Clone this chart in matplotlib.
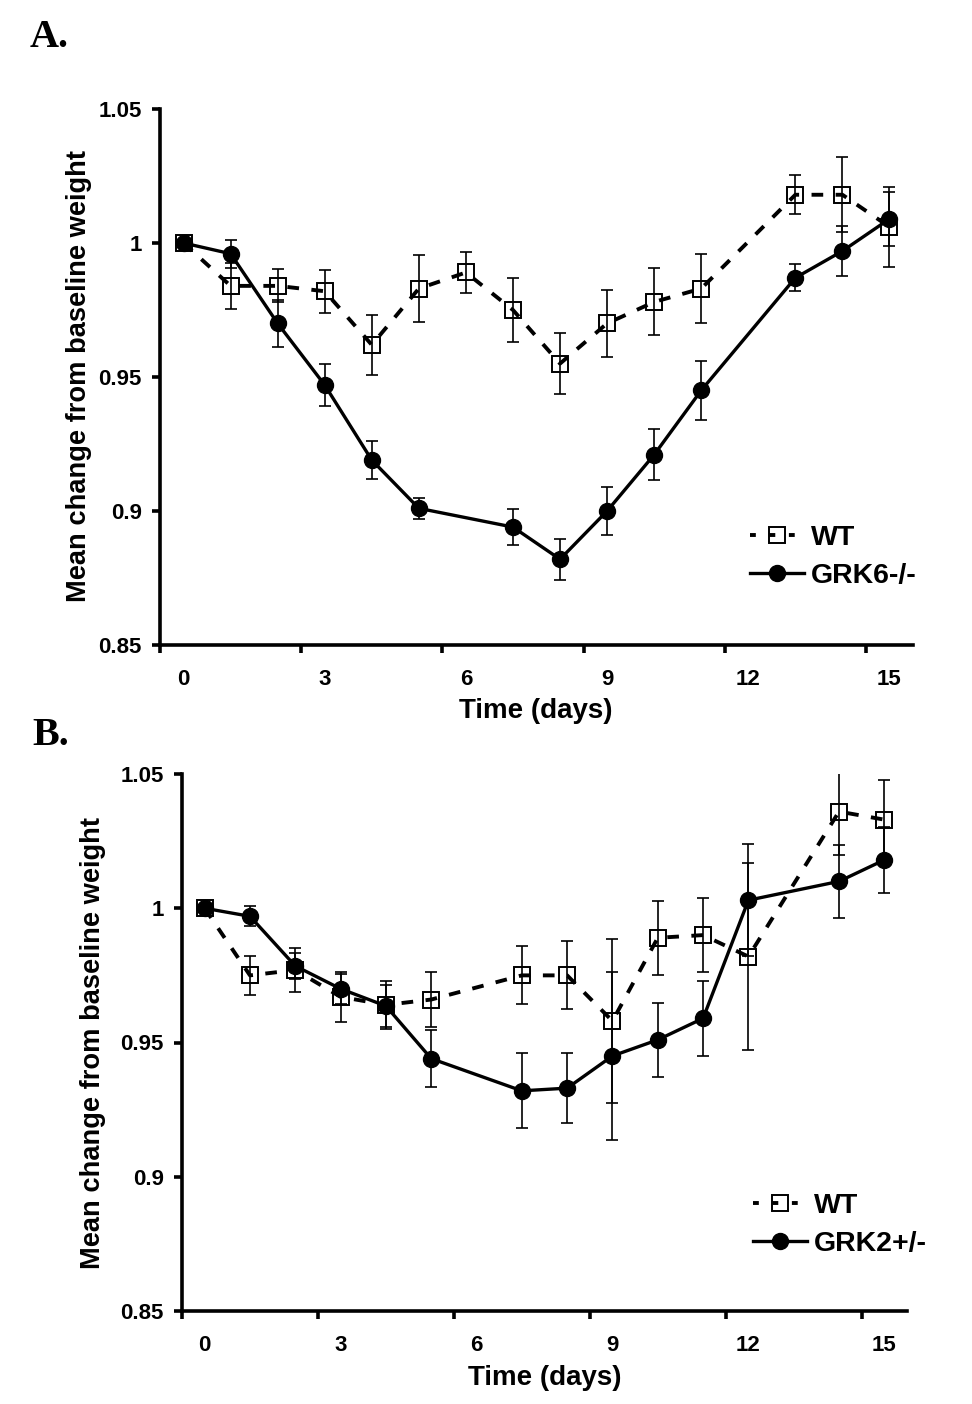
import numpy as np
import matplotlib
matplotlib.use("Agg")
import matplotlib.pyplot as plt
from matplotlib.lines import Line2D

# panel A: WT vs GRK6-/-
days_A_wt = [0, 1, 2, 3, 4, 5, 6, 7, 8, 9, 10, 11, 13, 14, 15]
wt_A = [1.000, 0.984, 0.984, 0.982, 0.962, 0.983, 0.989, 0.975, 0.955, 0.970, 0.978, 0.983, 1.018, 1.018, 1.006]
wt_A_err = [0, 0.0085, 0.0062, 0.008, 0.0113, 0.0125, 0.0076, 0.012, 0.0115, 0.0125, 0.0125, 0.013, 0.0072, 0.014, 0.0148]
days_A_ko = [0, 1, 2, 3, 4, 5, 7, 8, 9, 10, 11, 13, 14, 15]
ko_A = [1.000, 0.996, 0.970, 0.947, 0.919, 0.901, 0.894, 0.882, 0.900, 0.921, 0.945, 0.987, 0.997, 1.009]
ko_A_err = [0, 0.0053, 0.0087, 0.008, 0.0072, 0.004, 0.0068, 0.0076, 0.009, 0.0095, 0.011, 0.005, 0.0094, 0.010]

# panel B: WT vs GRK2+/-
days_B = [0, 1, 2, 3, 4, 5, 7, 8, 9, 10, 11, 12, 14, 15]
wt_B = [1.000, 0.975, 0.977, 0.967, 0.964, 0.966, 0.975, 0.975, 0.958, 0.989, 0.990, 0.982, 1.036, 1.033]
wt_B_err = [0, 0.0072, 0.0083, 0.0093, 0.009, 0.0102, 0.0108, 0.0127, 0.0304, 0.0137, 0.0139, 0.0348, 0.0161, 0.0146]
ko_B = [1.000, 0.997, 0.9785, 0.970, 0.9636, 0.944, 0.932, 0.933, 0.945, 0.951, 0.959, 1.003, 1.010, 1.018]
ko_B_err = [0, 0.0037, 0.005, 0.0056, 0.0077, 0.0105, 0.014, 0.013, 0.0313, 0.0137, 0.0139, 0.0209, 0.0137, 0.0124]

y_ticks = [0.85, 0.9, 0.95, 1.0, 1.05]
y_labels = ["0.85", "0.9", "0.95", "1", "1.05"]
x_labels = [0, 3, 6, 9, 12, 15]

plt.rcParams['font.family'] = ['Liberation Sans', 'DejaVu Sans']
plt.rcParams['font.weight'] = 'bold'

fig = plt.figure(figsize=(9.72, 14.04), dpi=100)
W, H = 972.0, 1404.0


def panel(rect, d_wt, wt, wt_err, d_ko, ko, ko_err, ko_name, leg_xy):
    ax = fig.add_axes(rect)
    # WT: dashed line, open squares
    ax.errorbar(d_wt, wt, yerr=wt_err, fmt='none', ecolor='black',
                elinewidth=1.2, capsize=4, capthick=1.2, zorder=2)
    ax.plot(d_wt, wt, color='black', lw=2.8, dashes=(3, 3.2), marker='s',
            ms=11, mfc='none', mec='black', mew=1.4, zorder=3)
    # knockout: solid line, filled circles
    ax.errorbar(d_ko, ko, yerr=ko_err, fmt='none', ecolor='black',
                elinewidth=1.2, capsize=4, capthick=1.2, zorder=2)
    ax.plot(d_ko, ko, color='black', lw=2.4, marker='o', ms=11.5,
            mfc='black', mec='black', zorder=4)

    ax.set_xlim(-0.5, 15.5)
    ax.set_ylim(0.85, 1.05)
    for s in ['top', 'right']:
        ax.spines[s].set_visible(False)
    for s in ['left', 'bottom']:
        ax.spines[s].set_linewidth(2.6)

    # category style x axis: marks between days, labels on days
    ax.set_xticks([-0.5, 2.5, 5.5, 8.5, 11.5, 14.5])
    ax.set_xticklabels([])
    ax.set_xticks(x_labels, minor=True)
    ax.set_xticklabels([str(v) for v in x_labels], minor=True)
    ax.tick_params(axis='x', which='major', direction='out', length=6, width=2.6)
    ax.tick_params(axis='x', which='minor', length=0, pad=17, labelsize=16)

    ax.set_yticks(y_ticks)
    ax.set_yticklabels(y_labels)
    ax.tick_params(axis='y', direction='out', length=6, width=2.6, pad=7, labelsize=16)

    h_wt = Line2D([], [], color='black', lw=2.8, dashes=(1.5, 3.5), marker='s',
                  ms=11, mfc='none', mec='black', mew=1.4)
    h_ko = Line2D([], [], color='black', lw=2.4, marker='o', ms=11.5, mfc='black')
    fig.legend([h_wt, h_ko], ['WT', ko_name], loc='upper left',
               bbox_to_anchor=leg_xy, frameon=False, fontsize=20.5,
               handlelength=1.9, handletextpad=0.25, labelspacing=0.42,
               borderpad=0, borderaxespad=0, numpoints=1)
    return ax


axA = panel([160 / W, 1 - 645 / H, 753 / W, 536 / H], days_A_wt, wt_A, wt_A_err,
            days_A_ko, ko_A, ko_A_err, 'GRK6-/-', (750 / W, 1 - 525 / H))
axB = panel([182 / W, 1 - 1311 / H, 725 / W, 537 / H], days_B, wt_B, wt_B_err,
            days_B, ko_B, ko_B_err, 'GRK2+/-', (753 / W, 1 - 1193 / H))

# axis titles
fig.text(536 / W, 1 - 711 / H, 'Time (days)', ha='center', va='center', fontsize=20)
fig.text(545 / W, 1 - 1378 / H, 'Time (days)', ha='center', va='center', fontsize=20)
fig.text(79 / W, 1 - 376 / H, 'Mean change from baseline weight', rotation=90,
         ha='center', va='center', fontsize=19.6)
fig.text(93 / W, 1 - 1043 / H, 'Mean change from baseline weight', rotation=90,
         ha='center', va='center', fontsize=19.6)

# panel letters
fig.text(30 / W, 1 - 47 / H, 'A.', family='Liberation Serif', weight='bold',
         fontsize=29, va='baseline')
fig.text(32 / W, 1 - 745 / H, 'B.', family='Liberation Serif', weight='bold',
         fontsize=29, va='baseline')

plt.savefig('out.png', dpi=100)
